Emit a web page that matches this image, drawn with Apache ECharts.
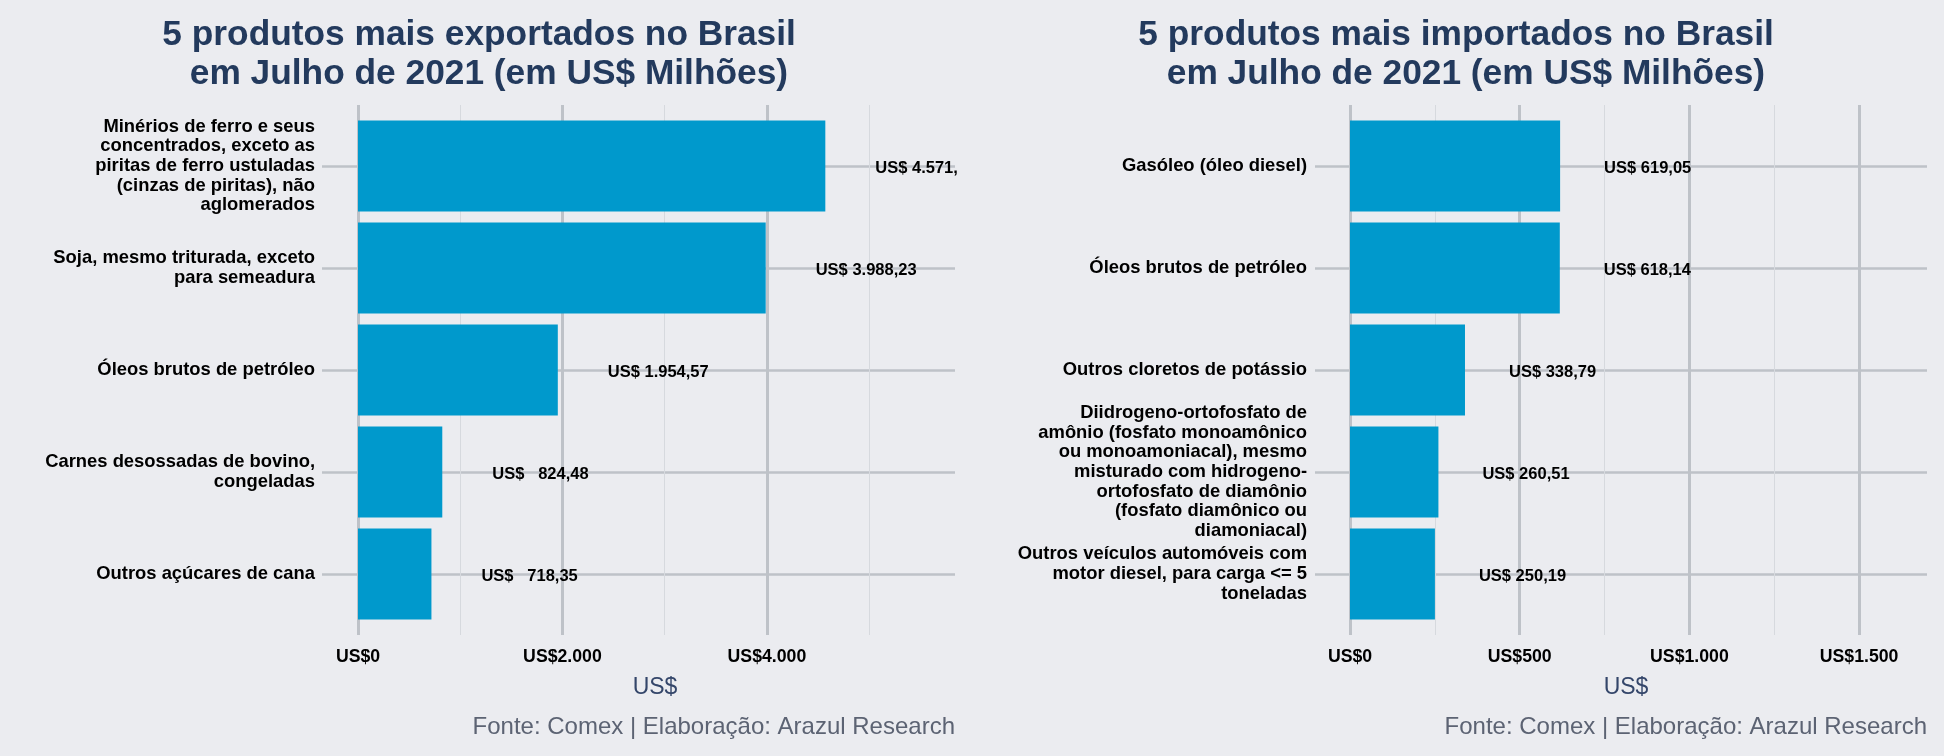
<!DOCTYPE html>
<html><head><meta charset="utf-8">
<script src="https://cdn.jsdelivr.net/npm/echarts@6/dist/echarts.min.js"></script>
<style>html,body{margin:0;padding:0;background:#EBECF0;} #c{width:1944px;height:756px;}</style>
</head><body><div id="c"></div>
<script>
const exportTitle = '5 produtos mais exportados no Brasil \n em Julho de 2021 (em US$ Milhões)';
const importTitle = '5 produtos mais importados no Brasil \n em Julho de 2021 (em US$ Milhões)';
const exportCategories = [
  'Minérios de ferro e seus\nconcentrados, exceto as\npiritas de ferro ustuladas\n(cinzas de piritas), não\naglomerados',
  'Soja, mesmo triturada, exceto\npara semeadura',
  'Óleos brutos de petróleo',
  'Carnes desossadas de bovino,\ncongeladas',
  'Outros açúcares de cana'
];
const exportValues = [4571.45, 3988.23, 1954.57, 824.48, 718.35];
const importCategories = [
  'Gasóleo (óleo diesel)',
  'Óleos brutos de petróleo',
  'Outros cloretos de potássio',
  'Diidrogeno-ortofosfato de\namônio (fosfato monoamônico\nou monoamoniacal), mesmo\nmisturado com hidrogeno-\nortofosfato de diamônio\n(fosfato diamônico ou\ndiamoniacal)',
  'Outros veículos automóveis com\nmotor diesel, para carga <= 5\ntoneladas'
];
const importValues = [619.05, 618.14, 338.79, 260.51, 250.19];
const exportTicks = [0, 2000, 4000];
const importTicks = [0, 500, 1000, 1500];
const axisTitle = 'US$';
const caption = 'Fonte: Comex | Elaboração: Arazul Research';

const FONT = "'Liberation Sans', Arial, Helvetica, sans-serif";
const BG = '#EBECF0';
const BAR = '#0099CC';
const MAJOR = '#BEC2C8';
const MINOR = '#D6D9DE';
const TITLE_COLOR = '#233A5D';

function fmtNum(v, dec) {
  const fixed = v.toFixed(dec);
  let parts = fixed.split('.');
  let int = parts[0].replace(/\B(?=(\d{3})+(?!\d))/g, '.');
  return parts[1] ? int + ',' + parts[1] : int;
}
function valueLabels(values) {
  const s = values.map(v => fmtNum(v, 2));
  const L = Math.max(...s.map(x => x.length));
  return s.map(x => 'US$ ' + ' '.repeat(L - x.length) + x);
}

const grids = [], xAxes = [], yAxes = [], series = [], graphics = [];

function addPanel(p) {
  const gA = grids.length;
  grids.push({left: p.left, top: 115, width: p.width, height: 510, containLabel: false});
  const gB = grids.length;
  grids.push({left: p.left, top: 105, width: p.width, height: 530, containLabel: false});
  const step = p.ticks[1] - p.ticks[0];
  const xA = xAxes.length;
  xAxes.push({type: 'value', gridIndex: gA, min: 0, max: p.max, show: false});
  xAxes.push({type: 'value', gridIndex: gB, min: 0, max: p.max, interval: step / 2, position: 'top', z: 0,
    axisLine: {show: false}, axisTick: {show: false}, axisLabel: {show: false},
    splitLine: {show: true, showMaxLine: false, lineStyle: {color: MINOR, width: 1}}});
  xAxes.push({type: 'value', gridIndex: gB, min: 0, max: p.max, interval: step, position: 'bottom', z: 1,
    axisLine: {show: false}, axisTick: {show: false},
    axisLabel: {show: true, showMaxLabel: false, margin: 13, fontFamily: FONT, fontSize: 17.7, fontWeight: 'bold', color: '#000',
      formatter: v => (p.ticks.indexOf(v) >= 0 ? 'US$' + fmtNum(v, 0) : '')},
    splitLine: {show: true, showMaxLine: false, lineStyle: {color: MAJOR, width: 3}}});
  const yA = yAxes.length;
  yAxes.push({type: 'category', gridIndex: gA, inverse: true, data: p.categories,
    axisLine: {show: false},
    axisTick: {show: true, alignWithLabel: true, length: p.tickLen, lineStyle: {color: MAJOR, width: 2.5}},
    splitLine: {show: true, alignWithLabel: true, lineStyle: {color: MAJOR, width: 2.5}},
    axisLabel: {show: true, interval: 0, margin: 43, fontFamily: FONT, fontSize: 18.4, fontWeight: 'bold', color: '#000',
      lineHeight: 19.6, align: 'right', padding: [5, 0, 0, 0]}});
  yAxes.push({type: 'value', gridIndex: gB, show: false, min: 0, max: 1});
  const labels = valueLabels(p.values);
  const pxPerUnit = p.width / p.max;
  const data = p.values.map((v, i) => {
    const avail = (p.max - v) * pxPerUnit - p.labelDist;
    const item = {value: v};
    if (avail < 115) item.label = {width: avail + 6, overflow: 'truncate', ellipsis: ''};
    return item;
  });
  series.push({type: 'bar', xAxisIndex: xA, yAxisIndex: yA, data: data, barCategoryGap: '11%', z: 3,
    itemStyle: {color: BAR},
    label: {show: true, position: 'right', distance: p.labelDist, offset: [0, 2], fontFamily: FONT, fontSize: 16.5, fontWeight: 'bold', color: '#000',
      formatter: prm => labels[prm.dataIndex]}});
  graphics.push({type: 'text', x: p.titleX, y: 16, style: {text: p.title, textAlign: 'center', textVerticalAlign: 'top',
    fontFamily: FONT, fontSize: 35.3, fontWeight: 'bold', lineHeight: 38.6, fill: TITLE_COLOR}});
  graphics.push({type: 'text', x: p.axisTitleX, y: 688, style: {text: axisTitle, textAlign: 'center', textVerticalAlign: 'middle',
    fontFamily: FONT, fontSize: 23, fill: '#34466A'}});
  graphics.push({type: 'text', x: p.left + p.width, y: 727, style: {text: caption, textAlign: 'right', textVerticalAlign: 'middle',
    fontFamily: FONT, fontSize: 24, fill: '#5C6373'}});
}

addPanel({left: 358, width: 597, max: 5840, ticks: exportTicks, categories: exportCategories, values: exportValues,
  tickLen: 36, labelDist: 50, title: exportTitle, titleX: 484, axisTitleX: 655});
addPanel({left: 1350, width: 577, max: 1700, ticks: importTicks, categories: importCategories, values: importValues,
  tickLen: 35, labelDist: 44, title: importTitle, titleX: 1461, axisTitleX: 1626});

const chart = echarts.init(document.getElementById('c'), null, {renderer: 'canvas'});
chart.setOption({
  backgroundColor: BG,
  animation: false,
  grid: grids, xAxis: xAxes, yAxis: yAxes, series: series,
  graphic: graphics
});
</script></body></html>
